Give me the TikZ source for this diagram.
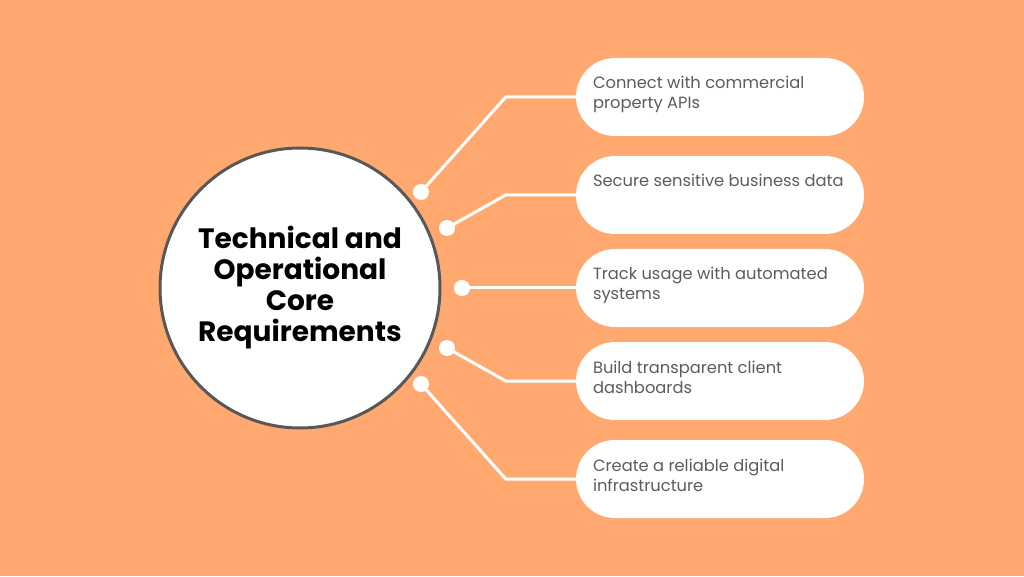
\documentclass[tikz,border=0pt]{standalone}
\usepackage{fontspec}
\setmainfont{Poppins}
\usetikzlibrary{positioning}
\definecolor{peach}{RGB}{255,168,112}
\definecolor{rim}{RGB}{88,88,88}
\definecolor{ink}{RGB}{92,92,92}

\begin{document}
\begin{tikzpicture}[x=1pt,y=1pt,
		core/.style={circle, draw=rim, line width=3pt, fill=white, minimum size=280pt,
		             align=center, font=\fontsize{28}{31}\selectfont\bfseries},
		pill/.style={rounded corners=39pt, fill=white, minimum width=288pt, minimum height=78pt,
		             inner xsep=17pt, inner ysep=17pt, font=\fontsize{16.3}{20}\selectfont, text=ink},
		knob/.style={circle, fill=white, minimum size=16pt, inner sep=0pt},
		link/.style={draw=white, line width=3pt}]
		\fill[peach] (0,0) rectangle (1024,576);
		\node[core] (core) at (300,288) {Technical and\\Operational\\Core\\Requirements};
		\foreach \i/\y/\txt in {1/479/{Connect with commercial\\property APIs},
		                       2/381/{\mbox{Secure sensitive business data}},
		                       3/288/{Track usage with automated\\systems},
		                       4/195/{Build transparent client\\dashboards},
		                       5/97/{Create a reliable digital\\infrastructure}}
			\node[pill] (req\i) at (720,\y) {\parbox[c][44pt][t]{254pt}{\raggedright\strut\txt}};
		\foreach \i/\x/\y in {1/421/384, 2/447/348, 3/462/288, 4/447/228, 5/421/192}
			\node[knob] (knob\i) at (\x,\y) {};
		\foreach \i in {1,...,5}
			\draw[link] (knob\i.center) -- ([xshift=-70pt]req\i.west) -- (req\i.west);
	\end{tikzpicture}
\end{document}
